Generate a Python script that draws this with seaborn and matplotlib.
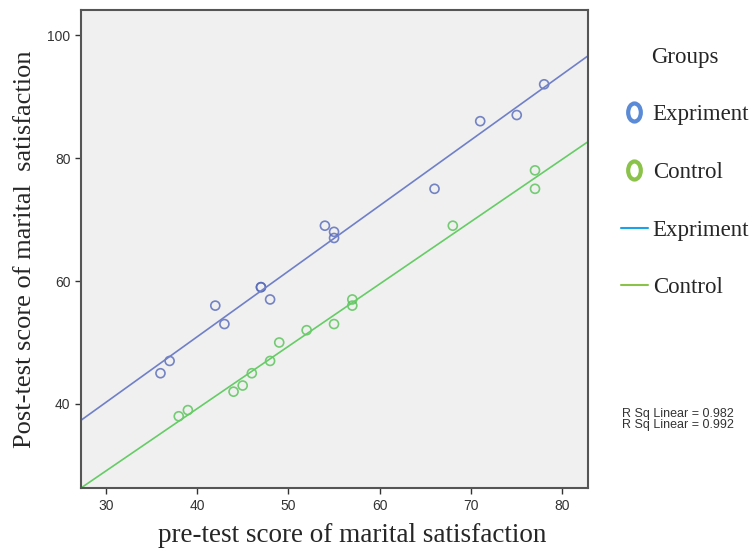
import numpy as np
import pandas as pd
import matplotlib
matplotlib.use("Agg")
import matplotlib.pyplot as plt
from matplotlib.lines import Line2D
from matplotlib.markers import MarkerStyle
from matplotlib.transforms import Affine2D
import seaborn as sns

# pre / post test scores
exp_pre = [36, 37, 42, 43, 47, 47, 48, 54, 55, 55, 66, 71, 75, 78]
exp_post = [45, 47, 56, 53, 59, 59, 57, 69, 68, 67, 75, 86, 87, 92]
ctl_pre = [38, 39, 44, 45, 46, 48, 49, 52, 55, 57, 57, 68, 77, 77]
ctl_post = [38, 39, 42, 43, 45, 47, 50, 52, 53, 56, 57, 69, 78, 75]

group_names = ["Expriment", "Control"]
rsq_labels = ["R Sq Linear = 0.982", "R Sq Linear = 0.992"]
x_ticks = [30, 40, 50, 60, 70, 80]
y_ticks = [40, 60, 80, 100]

data = pd.DataFrame({
    "pre": exp_pre + ctl_pre,
    "post": exp_post + ctl_post,
    "group": [group_names[0]] * len(exp_pre) + [group_names[1]] * len(ctl_pre),
})

sns.set_style("ticks")
plt.rcParams["font.family"] = ["Liberation Sans", "DejaVu Sans"]

fig = plt.figure(figsize=(7.5, 5.51), dpi=100)
ax = fig.add_axes([0.108, 0.114, 0.676, 0.868])
ax.set_facecolor("#f0f0f0")
ax.set_xlim(27.3, 82.8)
ax.set_ylim(26.3, 104.1)

pt_colors = {"Expriment": "#5468b8", "Control": "#55c255"}
ln_colors = {"Expriment": "#7080c8", "Control": "#66cc66"}

for g in group_names:
    sub = data[data["group"] == g]
    sns.regplot(data=sub, x="pre", y="post", ax=ax, ci=None, truncate=False,
                scatter_kws={"facecolors": "none", "edgecolors": pt_colors[g],
                             "s": 42, "linewidths": 1.2},
                line_kws={"color": ln_colors[g], "lw": 1.2})

ax.set_xlim(27.3, 82.8)
ax.set_ylim(26.3, 104.1)
ax.set_xticks(x_ticks)
ax.set_yticks(y_ticks)
ax.tick_params(labelsize=10, length=4, width=1, colors="#333333")
for s in ax.spines.values():
    s.set_visible(True)
    s.set_linewidth(1.5)
    s.set_color("#555555")

ax.set_xlabel("pre-test score of marital satisfaction", family="Liberation Serif",
              fontsize=19.5)
ax.xaxis.set_label_coords(0.535, -0.072)
ax.set_ylabel("Post-test score of marital  satisfaction", family="Liberation Serif",
              fontsize=19, labelpad=8)

# legend on the right
oval = MarkerStyle("o", transform=Affine2D().scale(0.7, 1.0))
handles = [
    Line2D([], [], ls="none", marker=oval, mfc="none", mec="#5b8bd6", mew=3, ms=13),
    Line2D([], [], ls="none", marker=oval, mfc="none", mec="#8bc34a", mew=3, ms=13),
    Line2D([], [], color="#1aa3e8", lw=1.5),
    Line2D([], [], color="#8bc34a", lw=1.5),
]
leg = fig.legend(handles, group_names + group_names, title="Groups",
                 loc="upper left", bbox_to_anchor=(0.8, 0.953), frameon=False,
                 prop={"family": "Liberation Serif", "size": 16.5},
                 title_fontproperties={"family": "Liberation Serif", "size": 16.5},
                 labelspacing=1.6, handlelength=1.2, handletextpad=0.2)

fig.text(0.83, 0.26, rsq_labels[0] + "\n" + rsq_labels[1], fontsize=9,
         color="#333333", va="top", linespacing=0.9)

fig.savefig("out.png", dpi=100, facecolor="white")
